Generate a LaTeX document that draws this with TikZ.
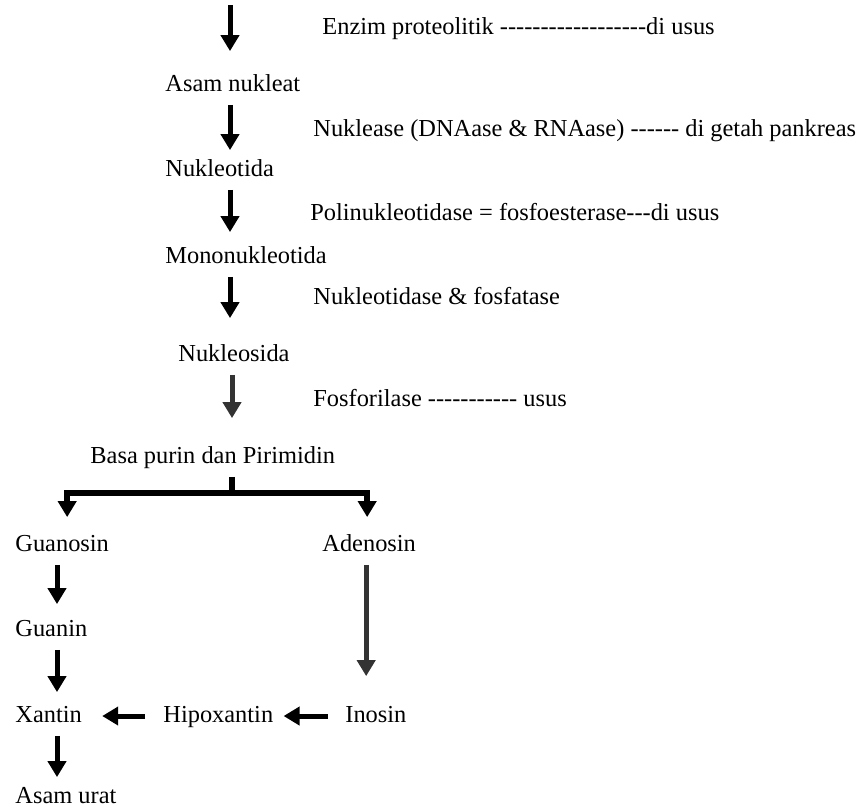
\documentclass[tikz,border=0pt]{standalone}
\usepackage{fontspec}
\setmainfont{Liberation Serif}
\usetikzlibrary{arrows.meta}

\newcommand{\garis}[1]{\foreach \i in {1,...,#1}{-}}

\begin{document}
\begin{tikzpicture}[
        x=0.5pt, y=-0.5pt,
        font=\fontsize{12.2}{14}\selectfont,
        teks/.style={anchor=west, inner xsep=0pt, inner ysep=4pt,
            text height=9pt, text depth=2.5pt},
        panah/.style={line width=2.5pt,
            -{Triangle[width=9pt, length=8pt]}}
    ]
        % Bingkai
        \useasboundingbox (0,0) rectangle (860,810);

        % Jalur utama
        \coordinate (awal) at (230,5);
        \coordinate (poros) at (230,0);
        \coordinate (poros2) at (232,0);
        \node[teks] (asam) at (165,85) {Asam nukleat};
        \node[teks] (nukleotida) at (165,170) {Nukleotida};
        \node[teks] (mono) at (165,257) {Mononukleotida};
        \node[teks] (nukleosida) at (178,355) {Nukleosida};
        \node[teks] (basa) at (90,457) {Basa purin dan Pirimidin};

        % Enzim
        \node[teks] (enzim) at (322,28) {Enzim proteolitik \garis{18}di usus};
        \node[teks] (nuklease) at (313,130) {Nuklease (DNAase \& RNAase) \garis{6} di getah pankreas};
        \node[teks] (polinuk) at (310,214) {Polinukleotidase = fosfoesterase\garis{3}di usus};
        \node[teks] (fosfatase) at (313,298) {Nukleotidase \& fosfatase};
        \node[teks] (fosforilase) at (313,400) {Fosforilase \garis{11} usus};

        \draw[panah, shorten >=7pt] (awal) -- (asam.north -| poros);
        \draw[panah] (asam.south -| poros) -- (nukleotida.north -| poros);
        \draw[panah, shorten >=2.5pt] (nukleotida.south -| poros) -- (mono.north -| poros);
        \draw[panah, shorten >=8.5pt] (mono.south -| poros) -- (nukleosida.north -| poros);
        \draw[panah, black!80, shorten >=9.5pt] (nukleosida.south -| poros2) -- (basa.north -| poros2);

        % Purin
        \node[teks] (guanosin) at (15,545) {Guanosin};
        \node[teks] (adenosin) at (322,545) {Adenosin};
        \node[teks] (guanin) at (15,630) {Guanin};
        \node[teks] (xantin) at (15,716) {Xantin};
        \node[teks] (hipoxantin) at (163,716) {Hipoxantin};
        \node[teks] (inosin) at (345,716) {Inosin};
        \node[teks] (urat) at (15,797) {Asam urat};

        % Cabang
        \coordinate (simpang) at (232,493);
        \coordinate (kiri) at (57,0);
        \draw[line width=3pt] (basa.south -| simpang) -- (simpang);
        \draw[panah, line width=3pt, shorten >=4pt] (simpang) -| ([xshift=2.5pt]guanosin.north);
        \draw[panah, line width=3pt, shorten >=4pt] (simpang) -| ([xshift=-1pt]adenosin.north);

        \draw[panah, shorten >=3pt] (guanosin.south -| kiri) -- (guanin.north -| kiri);
        \draw[panah, shorten >=2pt] (guanin.south -| kiri) -- (xantin.north -| kiri);
        \draw[panah] (xantin.south -| kiri) -- (urat.north -| kiri);
        \draw[panah, black!80, shorten >=10pt] ([xshift=-1.5pt]adenosin.south) -- ([xshift=-1.5pt]adenosin.south |- inosin.north);
        \draw[panah, shorten <=8.5pt, shorten >=5pt] (inosin.west) -- (hipoxantin.east);
        \draw[panah, shorten <=9pt, shorten >=10pt] (hipoxantin.west) -- (xantin.east);

    \end{tikzpicture}
\end{document}
